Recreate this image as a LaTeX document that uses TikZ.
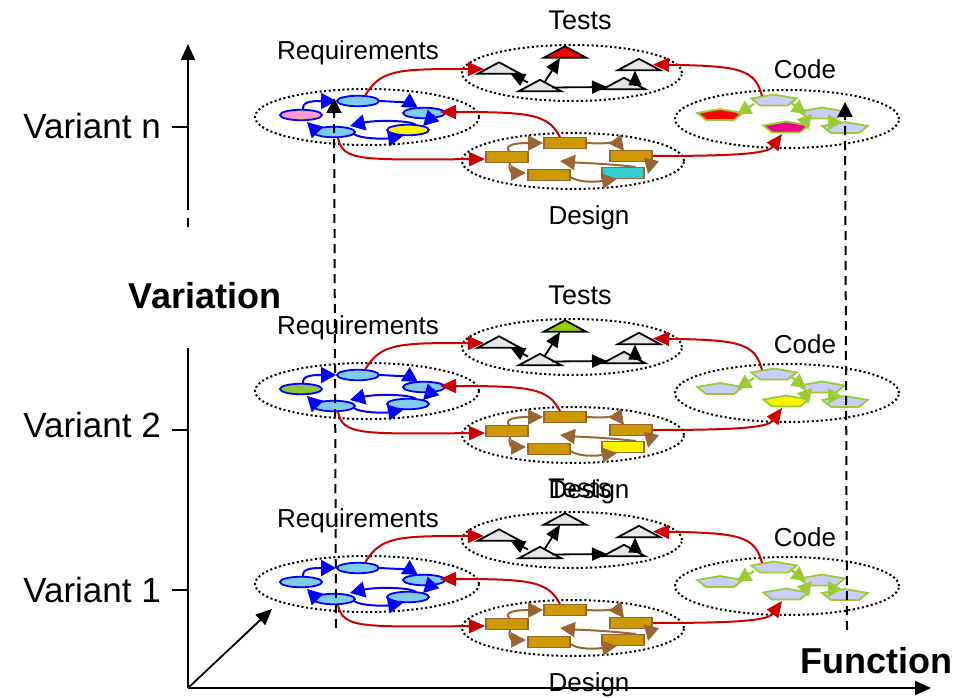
\documentclass[tikz,border=0pt]{standalone}
\usepackage{fontspec}
\setmainfont{Liberation Sans}
\usetikzlibrary{shapes.geometric,arrows.meta,calc}

\definecolor{reqblue}{RGB}{0,0,255}
\definecolor{reqfill}{RGB}{128,204,240}
\definecolor{reqpink}{RGB}{255,153,204}
\definecolor{reqgreen}{RGB}{140,198,63}
\definecolor{linkred}{RGB}{204,0,0}
\definecolor{trigray}{RGB}{230,230,230}
\definecolor{trigreen}{RGB}{153,204,0}
\definecolor{boxgold}{RGB}{204,153,0}
\definecolor{boxbrown}{RGB}{153,102,51}
\definecolor{boxcyan}{RGB}{51,204,204}
\definecolor{pentfill}{RGB}{204,204,255}
\definecolor{pentgreen}{RGB}{153,204,51}

\tikzset{
  dotell/.style={ellipse, draw, line width=2pt, dash pattern=on 2pt off 2.6pt, inner sep=0},
  reqell/.style={ellipse, draw=reqblue, line width=1.8pt, fill=reqfill,
    minimum width=42pt, minimum height=10.5pt, inner sep=0},
  bluearr/.style={draw=reqblue, line width=2pt, -{Triangle[length=15pt,width=16pt]}},
  redarr/.style={draw=linkred, line width=2pt, -{Triangle[length=16pt,width=14pt]}},
  blackarr/.style={draw=black, line width=1.8pt, -{Triangle[length=15pt,width=13pt]}},
  brownarr/.style={draw=boxbrown, line width=2pt, -{Triangle[length=15pt,width=15pt]}},
  greenarr/.style={draw=pentgreen, line width=2.2pt, -{Triangle[length=14pt,width=15pt]}},
  tribox/.style={rectangle, minimum width=42pt, minimum height=11pt, inner sep=0},
  triline/.style={draw=black, line width=1.8pt},
  desbox/.style={rectangle, draw=boxbrown, line width=1.8pt, fill=boxgold,
    minimum width=42pt, minimum height=11pt, inner sep=0},
  pentbox/.style={rectangle, minimum width=45pt, minimum height=10.5pt, inner sep=0},
  pentline/.style={draw=pentgreen, line width=1.8pt},
  lbl/.style={font=\fontsize{26}{30}\selectfont, inner sep=0},
  axisline/.style={draw=black, line width=1.8pt},
  axistip/.style={-{Triangle[length=16pt,width=14pt]}},
  dashline/.style={draw=black, line width=2pt, dash pattern=on 9pt off 6pt,
    -{Triangle[length=15pt,width=15pt]}},
}

% a test case: flat triangle built on a named box
\newcommand\testtri[3]{%
  \node[tribox] (#1) at #2 {};
  \draw[triline, fill=#3] (#1.south west) -- (#1.north) -- (#1.south east) -- cycle;}

% a code unit: flat pentagon built on a named box
\newcommand\codepent[3]{%
  \node[pentbox] (#1) at #2 {};
  \draw[pentline, fill=#3] (#1.north) -- ($(#1.west)+(0,-1.5)$)
    -- ($(#1.south)+(-14,0)$) -- ($(#1.south)+(14,0)$)
    -- ($(#1.east)+(0,-1.5)$) -- cycle;}

% one variant: requirements, tests, design and code clusters
% #1 prefix, #2 vertical position, #3-#8 highlight fills
\newcommand\varlayer[8]{%
\begin{scope}[shift={(0,#2)}]
  \node[dotell, minimum width=224pt, minimum height=56pt] (#1req) at (367,0) {};
  \node[dotell, minimum width=220pt, minimum height=56pt] (#1tst) at (572,-44) {};
  \node[dotell, minimum width=222pt, minimum height=56pt] (#1des) at (573,44) {};
  \node[dotell, minimum width=224pt, minimum height=58pt] (#1cod) at (787,2) {};
  % requirements
  \node[reqell, fill=#3] (#1r1) at (301,-2) {};
  \node[reqell] (#1r2) at (358,-16) {};
  \node[reqell] (#1r3) at (424,-4) {};
  \node[reqell] (#1r4) at (334,15) {};
  \node[reqell, fill=#4] (#1r5) at (408,13) {};
  \draw[bluearr] ($(#1r1)+(2,-5)$) .. controls ($(#1r1)+(1,-13)$) and ($(#1r1)+(9,-14)$) .. (#1r2.west);
  \draw[bluearr] (#1r2.east) .. controls ($(#1r2)+(42,1)$) and ($(#1r2)+(52,2)$) .. ($(#1r3)+(-6,-5)$);
  \draw[bluearr] ($(#1r3)+(10,2)$) -- ($(#1r5)+(15,-4)$);
  \draw[bluearr] ($(#1r5)+(8,-5)$) .. controls ($(#1r5)+(2,-10)$) and ($(#1r5)+(-33,-10)$) .. ($(#1r4)+(16,-6)$);
  \draw[bluearr] ($(#1r4)+(20,2)$) .. controls ($(#1r4)+(26,7)$) and ($(#1r4)+(51,7)$) .. ($(#1r5)+(-5,6)$);
  \draw[bluearr] ($(#1r4)+(-19,-2)$) -- ($(#1r1)+(6,7)$);
  % tests
  \testtri{#1tA}{(499,-49)}{trigray}
  \testtri{#1tB}{(540,-31.5)}{trigray}
  \testtri{#1tC}{(565,-65)}{#5}
  \testtri{#1tD}{(639,-52.5)}{trigray}
  \testtri{#1tE}{(624,-33.5)}{trigray}
  \draw[blackarr] ($(#1tB)+(-12,-3)$) -- ($(#1tA)+(11,5)$);
  \draw[blackarr] ($(#1tB)+(5,-4)$) -- ($(#1tC)+(-5,6)$);
  \draw[blackarr] ($(#1tB)+(12,2)$) -- ($(#1tE)+(-17,3.5)$);
  \draw[blackarr] ($(#1tE)+(11,2)$) -- ($(#1tD)+(-4,6)$);
  % design
  \node[desbox] (#1d1) at (507,40) {};
  \node[desbox] (#1d2) at (565,26) {};
  \node[desbox] (#1d3) at (631,39) {};
  \node[desbox] (#1d4) at (549,58) {};
  \node[desbox, fill=#6] (#1d5) at (623,56) {};
  \draw[brownarr] ($(#1d1)+(3,-5)$) .. controls ($(#1d1)+(-4,-12)$) and ($(#1d1)+(8,-14)$) .. (#1d2.west);
  \draw[brownarr] (#1d2.east) .. controls ($(#1d2)+(40,1)$) and ($(#1d2)+(53,0)$) .. ($(#1d3)+(-7,-5)$);
  \draw[brownarr] ($(#1d3)+(21,1)$) -- ($(#1d3)+(17,18)$);
  \draw[brownarr] ($(#1d5)+(13,-6)$) .. controls ($(#1d5)+(-23,-10)$) and ($(#1d5)+(-43,-10)$) .. ($(#1d4)+(11,-14)$);
  \draw[brownarr] ($(#1d4)+(21,2)$) .. controls ($(#1d4)+(31,8)$) and ($(#1d4)+(46,7)$) .. ($(#1d5)+(-6,6)$);
  \draw[brownarr] ($(#1d1)+(3,6)$) .. controls ($(#1d1)+(1,12)$) and ($(#1d1)+(5,16)$) .. ($(#1d4)+(-23,-2)$);
  % code
  \codepent{#1p1}{(720,-2.5)}{#7}
  \codepent{#1p2}{(774,-17)}{pentfill}
  \codepent{#1p3}{(822,-4)}{pentfill}
  \codepent{#1p4}{(786,10)}{#8}
  \codepent{#1p5}{(845,10.5)}{pentfill}
  \draw[greenarr] ($(#1p2)+(-20,4)$) -- ($(#1p1)+(17,0)$);
  \draw[greenarr] ($(#1p2)+(16,2)$) -- ($(#1p3)+(-16,1)$);
  \draw[greenarr] ($(#1p4)+(18,-4)$) -- ($(#1p3)+(-10,1)$);
  \draw[greenarr] ($(#1p5)+(-12,-5)$) -- ($(#1p3)+(6,1)$);
  % links between the clusters
  \draw[redarr] ($(#1r2)+(7,-5)$) .. controls ($(#1r2)+(22,-32)$) and ($(#1r2)+(42,-32)$) .. ($(#1tA.west)+(6,1)$);
  \draw[redarr] ($(#1p2)+(-12,-4)$) .. controls ($(#1p2)+(-19,-31)$) and ($(#1p2)+(-34,-34)$) .. ($(#1tD)+(14,0)$);
  \draw[redarr] ($(#1d2)+(-5,-6)$) .. controls ($(#1d2)+(-17,-29)$) and ($(#1d2)+(-35,-31)$) .. ($(#1r3)+(16,-1)$);
  \draw[redarr] ($(#1r4)+(4,6)$) .. controls ($(#1r4)+(9,29)$) and ($(#1r4)+(26,28)$) .. ($(#1d1.west)+(0,2)$);
  \draw[redarr] (#1d3.east) .. controls ($(#1d3)+(114,0)$) and ($(#1d3)+(137,-3)$) .. ($(#1p4)+(-4,7)$);
  % cluster titles
  \node[lbl, font=\fontsize{26}{30}\selectfont, anchor=base] (#1reqlbl) at (358,-57) {Requirements};
  \node[lbl, font=\fontsize{27}{30}\selectfont, anchor=base] (#1tstlbl) at (580,-87) {Tests};
  \node[lbl, anchor=base] (#1codlbl) at (805,-38) {Code};
  \node[lbl, anchor=base] (#1deslbl) at (589,107) {Design};
\end{scope}}

\begin{document}
\begin{tikzpicture}[x=1pt, y=-1pt]
  \useasboundingbox (0,0) rectangle (974,698);

  \varlayer{Ln}{117}{reqpink}{yellow}{red}{boxcyan}{red}{magenta}
  \varlayer{Lb}{391}{reqgreen}{reqfill}{trigreen}{yellow}{pentfill}{yellow}
  \varlayer{La}{584}{reqfill}{reqfill}{trigray}{boxgold}{pentfill}{pentfill}

  % traceability lines through all variants
  \coordinate (dvLbot) at (336,628);
  \coordinate (dvLtop) at (334,98);
  \coordinate (dvRbot) at (847,630);
  \coordinate (dvRtop) at (845,102);
  \draw[dashline] (dvLbot) -- (dvLtop);
  \draw[dashline] (dvRbot) -- (dvRtop);

  % axes
  \coordinate (origin) at (188,688);
  \coordinate (ytop) at (188,44);
  \coordinate (ybreakA) at (188,210);
  \coordinate (ybreakB) at (188,218);
  \coordinate (ybreakC) at (188,357);
  \coordinate (xend) at (931,688);
  \coordinate (depth) at (272,609);
  \draw[axisline] (origin) -- (ybreakC);
  \draw[axisline, dash pattern=on 9pt off 121pt] (ybreakB) -- (ybreakC);
  \draw[axisline, axistip] (ybreakA) -- (ytop);
  \draw[axisline, axistip] (origin) -- (xend);
  \draw[axisline, axistip] (origin) -- (depth);

  \coordinate (tickn) at (188,127);
  \coordinate (tickb) at (188,430);
  \coordinate (ticka) at (188,590);
  \draw[axisline] (tickn) -- ++(-16,0);
  \draw[axisline] (tickb) -- ++(-16,0);
  \draw[axisline] (ticka) -- ++(-16,0);

  \node[anchor=base east, inner sep=0, font=\fontsize{35}{40}\selectfont] (varn) at (161,139) {Variant n};
  \node[anchor=base east, inner sep=0, font=\fontsize{35}{40}\selectfont] (varb) at (161,437) {Variant 2};
  \node[anchor=base east, inner sep=0, font=\fontsize{35}{40}\selectfont] (vara) at (161,602) {Variant 1};
  \node[anchor=base, inner sep=0, font=\bfseries\fontsize{36}{42}\selectfont] (vartitle) at (205,308) {Variation};
  \node[anchor=base, inner sep=0, font=\bfseries\fontsize{36}{42}\selectfont] (funtitle) at (876,673) {Function};
\end{tikzpicture}
\end{document}
